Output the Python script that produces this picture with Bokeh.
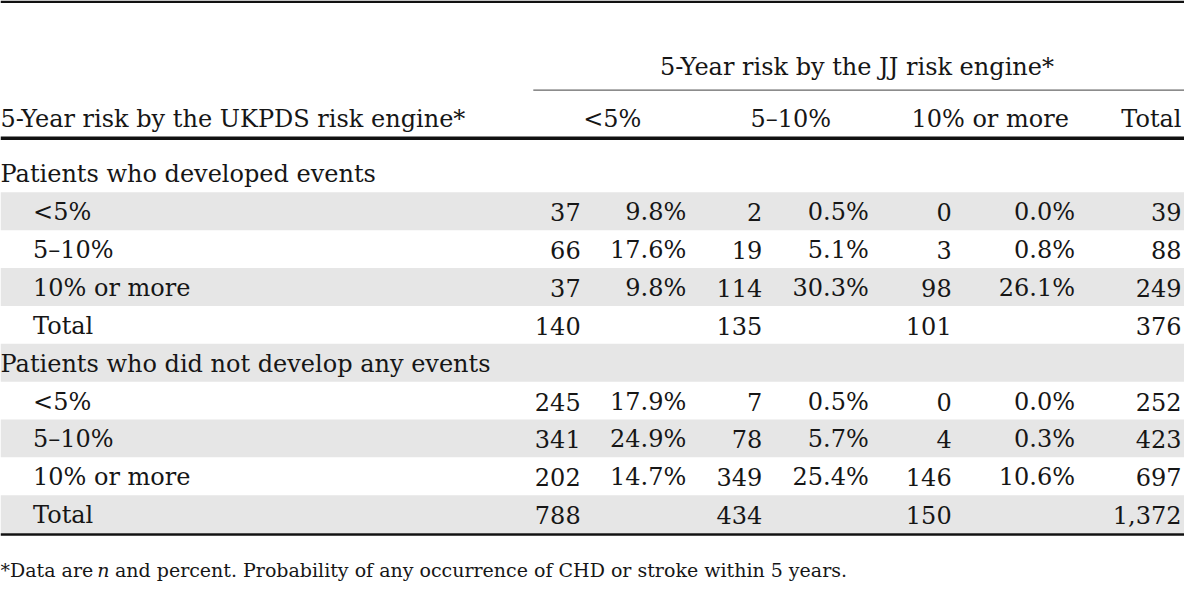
from bokeh.plotting import figure
from bokeh.models import ColumnDataSource, Range1d
from bokeh.embed import file_html
from bokeh.resources import INLINE
from bokeh.core.properties import value

# ---------------- data ----------------
title_rows = "5-Year risk by the UKPDS risk engine*"
title_cols = "5-Year risk by the JJ risk engine*"
col_headers = ["<5%", "5–10%", "10% or more", "Total"]
row_labels = ["<5%", "5–10%", "10% or more"]
total_label = "Total"
sections = ["Patients who developed events", "Patients who did not develop any events"]

events_n = [[37, 2, 0], [66, 19, 3], [37, 114, 98]]
events_pct = [[9.8, 0.5, 0.0], [17.6, 5.1, 0.8], [9.8, 30.3, 26.1]]
events_row_total = [39, 88, 249]
events_col_total = [140, 135, 101]
events_grand_total = 376

none_n = [[245, 7, 0], [341, 78, 4], [202, 349, 146]]
none_pct = [[17.9, 0.5, 0.0], [24.9, 5.7, 0.3], [14.7, 25.4, 10.6]]
none_row_total = [252, 423, 697]
none_col_total = [788, 434, 150]
none_grand_total = 1372

foot_a = "*Data are"
foot_n = "n"
foot_b = "and percent. Probability of any occurrence of CHD or stroke within 5 years."

# ---------------- layout (reference pixel units) ----------------
W, H = 1200, 604
ROW_TOP, ROW_H = 197.0, 38.9
N_RIGHT = [588, 772, 964]
PCT_RIGHT = [695, 880, 1089]
TOTAL_RIGHT = 1197
INDENT = 33
HDR_CENTER = [620, 801, 1003]
FONT = value("DejaVu Serif")
FS = "24px"
FS_FOOT = "19px"
INK = "#161616"
SHADE = "#e6e6e6"
SHIFT = -7  # baseline correction


def base(r):
    return ROW_TOP + (r - 0.5) * ROW_H + 8 + SHIFT


p = figure(width=1184, height=588, x_range=Range1d(0, W), y_range=Range1d(H, 0),
           output_backend="svg", toolbar_location=None, min_border=0,
           x_axis_type=None, y_axis_type=None, background_fill_color="white")
p.grid.visible = False
p.outline_line_color = None

# shaded bands
shade_rows = [1, 3, 5, 7, 9]
p.quad(left=[0] * len(shade_rows), right=[W] * len(shade_rows),
       top=[ROW_TOP + (r - 1) * ROW_H for r in shade_rows],
       bottom=[ROW_TOP + r * ROW_H for r in shade_rows],
       fill_color=SHADE, line_color=None)

# rules
p.segment(x0=[0, 540, 0, 0], x1=[W, W, W, W], y0=[1.3, 92, 141.5, 548.5], y1=[1.3, 92, 141.5, 548.5],
          line_color=["#111111", "#666666", "#111111", "#111111"], line_width=[2.7, 1.2, 3.5, 2.5])

lx, ly, lt = [], [], []
rx, ry, rt = [], [], []
cx, cy, ct = [], [], []

# headers
HDR_Y = 129 + SHIFT
cx.append(868); cy.append(75 + SHIFT); ct.append(title_cols)
lx.append(0); ly.append(HDR_Y); lt.append(title_rows)
for i in range(3):
    cx.append(HDR_CENTER[i]); cy.append(HDR_Y); ct.append(col_headers[i])
rx.append(TOTAL_RIGHT); ry.append(HDR_Y); rt.append(col_headers[3])

groups = [
    (events_n, events_pct, events_row_total, events_col_total, events_grand_total),
    (none_n, none_pct, none_row_total, none_col_total, none_grand_total),
]
for s, (nv, pv, rtot, ctot, gt) in enumerate(groups):
    r0 = s * 5
    lx.append(0); ly.append(base(r0)); lt.append(sections[s])
    for i in range(3):
        r = r0 + 1 + i
        lx.append(INDENT); ly.append(base(r)); lt.append(row_labels[i])
        for j in range(3):
            rx.append(N_RIGHT[j]); ry.append(base(r)); rt.append(f"{nv[i][j]:,}")
            rx.append(PCT_RIGHT[j]); ry.append(base(r)); rt.append(f"{pv[i][j]:.1f}%")
        rx.append(TOTAL_RIGHT); ry.append(base(r)); rt.append(f"{rtot[i]:,}")
    r = r0 + 4
    lx.append(INDENT); ly.append(base(r)); lt.append(total_label)
    for j in range(3):
        rx.append(N_RIGHT[j]); ry.append(base(r)); rt.append(f"{ctot[j]:,}")
    rx.append(TOTAL_RIGHT); ry.append(base(r)); rt.append(f"{gt:,}")

common = dict(text_font=FONT, text_font_size=FS, text_color=INK, text_baseline="alphabetic")
p.text(x="x", y="y", text="t", source=ColumnDataSource(dict(x=lx, y=ly, t=lt)), text_align="left", **common)
p.text(x="x", y="y", text="t", source=ColumnDataSource(dict(x=rx, y=ry, t=rt)), text_align="right", **common)
p.text(x="x", y="y", text="t", source=ColumnDataSource(dict(x=cx, y=cy, t=ct)), text_align="center", **common)

# footnote
FOOT_Y = 592 + SHIFT
foot = dict(text_font=FONT, text_font_size=FS_FOOT, text_color=INK, text_baseline="alphabetic", text_align="left")
p.text(x=[0], y=[FOOT_Y], text=[foot_a], **foot)
p.text(x=[98], y=[FOOT_Y], text=[foot_n], text_font_style="italic", **foot)
p.text(x=[116], y=[FOOT_Y], text=[foot_b], **foot)

open("out.html", "w").write(file_html(p, INLINE))
